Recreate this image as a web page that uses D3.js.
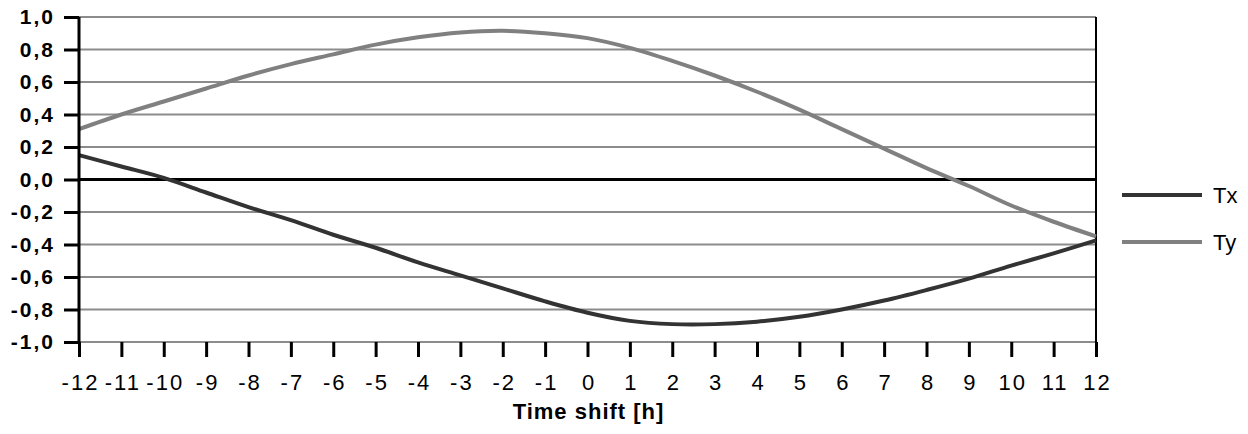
<!DOCTYPE html>
<html>
<head>
<meta charset="utf-8">
<script src="https://cdn.jsdelivr.net/npm/d3@7"></script>
<style>
  body { margin: 0; background: #fff; }
  svg { font-family: "Liberation Sans", Arial, sans-serif; }
</style>
</head>
<body>
<svg width="1248" height="434"></svg>
<script>
let width = 1248,
    height = 434;

// data
let hours = d3.range(-12, 13);
let tx = [0.15, 0.08, 0.01, -0.08, -0.17, -0.25, -0.34, -0.42, -0.51, -0.59, -0.67, -0.75, -0.82,
          -0.87, -0.89, -0.89, -0.875, -0.845, -0.80, -0.745, -0.68, -0.61, -0.53, -0.455, -0.375];
let ty = [0.31, 0.40, 0.48, 0.56, 0.64, 0.71, 0.77, 0.83, 0.875, 0.905, 0.915, 0.90, 0.87,
          0.81, 0.73, 0.64, 0.54, 0.43, 0.31, 0.19, 0.07, -0.04, -0.16, -0.26, -0.35];
let yTicks = d3.range(-1, 1.01, 0.2).map(v => Math.round(v * 10) / 10);
let series = [
    { name: "Tx", values: tx, color: "#333333" },
    { name: "Ty", values: ty, color: "#808080" }
];

let svg = d3.select("svg");

let x = d3.scaleLinear().domain([-12, 12]).range([79, 1096]);
let y = d3.scaleLinear().domain([-1, 1]).range([342, 17]);

let fmt = v => d3.format(".1f")(v).replace(".", ",").replace("−", "-");

// gridlines
svg.append("g")
    .selectAll("line")
    .data(yTicks.filter(v => v !== 0))
    .enter()
    .append("line")
    .attr("x1", x(-12))
    .attr("x2", x(12))
    .attr("y1", d => y(d))
    .attr("y2", d => y(d))
    .attr("stroke", "#8c8c8c")
    .attr("stroke-width", 2);

// right border
svg.append("line")
    .attr("x1", x(12)).attr("x2", x(12))
    .attr("y1", y(1)).attr("y2", y(-1))
    .attr("stroke", "#000")
    .attr("stroke-width", 2);

// zero line
svg.append("line")
    .attr("x1", x(-12)).attr("x2", x(12))
    .attr("y1", y(0)).attr("y2", y(0))
    .attr("stroke", "#000")
    .attr("stroke-width", 3);

// series
let line = d3.line()
    .x((d, i) => x(hours[i]))
    .y(d => y(d))
    .curve(d3.curveCatmullRom);

svg.append("g")
    .selectAll("path")
    .data(series)
    .enter()
    .append("path")
    .attr("d", d => line(d.values))
    .attr("fill", "none")
    .attr("stroke", d => d.color)
    .attr("stroke-width", 4);

// y axis
let yAxis = d3.axisLeft(y)
    .tickValues(yTicks)
    .tickSize(15)
    .tickPadding(9)
    .tickFormat(fmt);

svg.append("g")
    .attr("transform", "translate(" + x(-12) + ",0)")
    .call(yAxis)
    .call(g => g.select(".domain").attr("stroke", "#000").attr("stroke-width", 3).attr("d", "M0," + y(1) + "V" + y(-1)))
    .call(g => g.selectAll(".tick line").attr("stroke", "#000").attr("stroke-width", 3))
    .call(g => g.selectAll(".tick text")
        .attr("fill", "#000")
        .style("font-size", "21px")
        .style("letter-spacing", "2px")
        .style("font-weight", "bold"));

// x axis
let xAxis = d3.axisBottom(x)
    .tickValues(hours)
    .tickSize(15)
    .tickPadding(17)
    .tickFormat(d => String(d));

svg.append("g")
    .attr("transform", "translate(0," + y(-1) + ")")
    .call(xAxis)
    .call(g => g.select(".domain").remove())
    .call(g => g.selectAll(".tick line").attr("stroke", "#000").attr("stroke-width", 3))
    .call(g => g.selectAll(".tick text")
        .attr("fill", "#000")
        .attr("dx", "1px")
        .style("letter-spacing", "2px")
        .style("font-size", "22px"));

// x title
svg.append("text")
    .attr("x", (x(-12) + x(12)) / 2 + 1)
    .attr("y", 419)
    .attr("text-anchor", "middle")
    .style("font-size", "22px")
    .style("letter-spacing", "1px")
    .style("font-weight", "bold")
    .text("Time shift [h]");

// legend
let legend = svg.append("g")
    .selectAll("g")
    .data(series)
    .enter()
    .append("g")
    .attr("transform", (d, i) => "translate(1122," + (195 + i * 47) + ")");

legend.append("line")
    .attr("x1", 0).attr("x2", 80)
    .attr("stroke", d => d.color)
    .attr("stroke-width", 4);

legend.append("text")
    .attr("x", 91)
    .attr("dy", "0.35em")
    .style("font-size", "22px")
    .attr("fill", "#000")
    .text(d => d.name);
</script>
</body>
</html>
